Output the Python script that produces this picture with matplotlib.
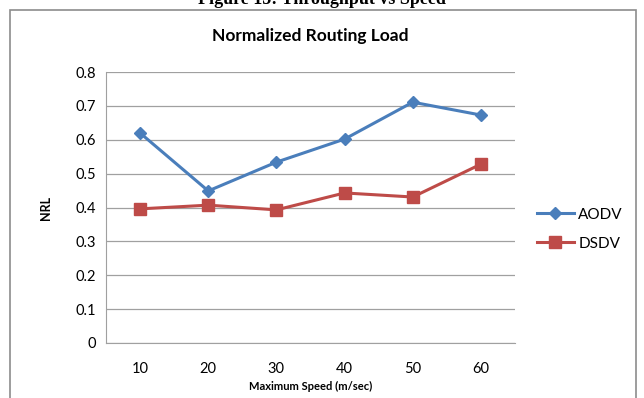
import matplotlib.pyplot as plt
from matplotlib.patches import Rectangle

speeds = ["10", "20", "30", "40", "50", "60"]
aodv = [0.62, 0.449, 0.534, 0.602, 0.711, 0.673]
dsdv = [0.396, 0.407, 0.393, 0.443, 0.431, 0.528]
yticks = [0, 0.1, 0.2, 0.3, 0.4, 0.5, 0.6, 0.7, 0.8]

plt.rcParams["font.family"] = ["Lato", "DejaVu Sans"]

fig = plt.figure(figsize=(6.44, 3.98), dpi=100)
ax = fig.add_axes([0.1646, 0.1382, 0.6351, 0.6808])

x = range(len(speeds))
ax.plot(x, aodv, color="#4A7EBB", lw=2.2, marker="D", ms=6.5, label="AODV")
ax.plot(x, dsdv, color="#BE4B48", lw=2.2, marker="s", ms=8.5, label="DSDV")

ax.set_xlim(-0.5, len(speeds) - 0.5)
ax.set_ylim(0, 0.8)
ax.set_yticks(yticks)
ax.set_yticklabels([("%g" % v) for v in yticks], fontsize=10.5)
ax.set_xticks(list(x))
ax.set_xticklabels(speeds, fontsize=10.5)
ax.tick_params(length=0, pad=7)
ax.tick_params(axis="x", pad=14)
ax.grid(axis="y", color="#A0A0A0", lw=0.9)
ax.set_axisbelow(True)
for side in ["top", "right"]:
    ax.spines[side].set_visible(False)
for side in ["left", "bottom"]:
    ax.spines[side].set_color("#A0A0A0")

ax.set_title("Normalized Routing Load", fontsize=12.5, fontweight="bold", pad=22)
ax.set_xlabel("Maximum Speed (m/sec)", fontsize=8, fontweight="bold", labelpad=3)
ax.set_ylabel("NRL", fontsize=9, fontweight="bold", labelpad=17)

ax.legend(loc="center left", bbox_to_anchor=(1.02, 0.42), frameon=False,
          fontsize=11, handlelength=2.4, labelspacing=1.0, handletextpad=0.3)

# chart border
fig.patches.append(Rectangle((10 / 644, -0.05), 626 / 644, 1 - 10 / 398 + 0.05,
                             transform=fig.transFigure, fill=False,
                             edgecolor="#8C8C8C", lw=1.2))

fig.text(0.5, 1.0, "Figure 15: Throughput vs Speed", ha="center", va="center",
         fontsize=13, fontweight="bold", family="Liberation Serif")

fig.savefig("out.png", dpi=100)
